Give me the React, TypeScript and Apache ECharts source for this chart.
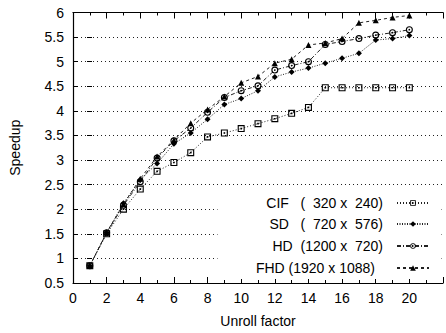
import React, { useEffect, useRef } from 'react';
import * as echarts from 'echarts';

const unrollFactor = [1, 2, 3, 4, 5, 6, 7, 8, 9, 10, 11, 12, 13, 14, 15, 16, 17, 18, 19, 20];
const cifSpeedup = [0.85, 1.5, 2.0, 2.41, 2.77, 2.95, 3.15, 3.47, 3.55, 3.64, 3.74, 3.84, 3.95, 4.07, 4.47, 4.47, 4.47, 4.47, 4.47, 4.47];
const sdSpeedup = [0.85, 1.52, 2.12, 2.6, 2.93, 3.33, 3.55, 3.83, 4.13, 4.25, 4.41, 4.69, 4.79, 4.87, 4.97, 5.07, 5.17, 5.44, 5.47, 5.53];
const hdSpeedup = [0.85, 1.52, 2.08, 2.56, 3.04, 3.39, 3.65, 3.97, 4.27, 4.41, 4.51, 4.83, 4.92, 5.0, 5.35, 5.41, 5.47, 5.54, 5.59, 5.65];
const fhdSpeedup = [0.85, 1.53, 2.1, 2.62, 3.07, 3.41, 3.75, 4.03, 4.29, 4.57, 4.7, 4.97, 5.05, 5.34, 5.38, 5.47, 5.79, 5.84, 5.9, 5.94];
const seriesNames = ['CIF   (  320 x  240)', 'SD   (  720 x  576)', 'HD  (1200 x  720)', 'FHD (1920 x 1088)'];

const FONT = "'Liberation Sans', Arial, sans-serif";
const INK = '#000';

const SQUARE_DOT = 'path://M0,0H10V10H0Z M1.6,1.6V8.4H8.4V1.6Z M3.8,3.8H6.2V6.2H3.8Z';
const CIRCLE_DOT =
  'path://M5,0A5,5 0 1,1 5,10A5,5 0 1,1 5,0Z M5,1.6A3.4,3.4 0 1,0 5,8.4A3.4,3.4 0 1,0 5,1.6Z M5,3.8A1.2,1.2 0 1,1 5,6.2A1.2,1.2 0 1,1 5,3.8Z';

export default function App() {
  const ref = useRef<HTMLDivElement>(null);

  useEffect(() => {
    const chart = echarts.init(ref.current as HTMLDivElement, null, { renderer: 'svg' });

    const valuesList = [cifSpeedup, sdSpeedup, hdSpeedup, fhdSpeedup];
    const symbols = [SQUARE_DOT, 'diamond', CIRCLE_DOT, 'triangle'];
    const symbolSizes = [7, 6, 7, 6];
    const dashes: any[] = [[1, 2], [1, 1.5], [4, 2, 1, 2], [3, 3]];
    const legendTops = [196, 217, 239, 261];
    const textPads = [9, 9, 9, 17];

    const xCommon = { type: 'value', min: 0, max: 22, interval: 2 };
    const tickStyle = { color: INK, width: 1 };

    const option: any = {
      animation: false,
      backgroundColor: '#fff',
      textStyle: { fontFamily: FONT },
      grid: { left: 73, right: -19.7, top: 12.5, bottom: 47.3, containLabel: false },
      graphic: [
        {
          type: 'rect',
          z: 3,
          shape: { x: 217.5, y: 190, width: 224, height: 89 },
          style: { fill: '#fff' },
          silent: true,
        },
      ],
      xAxis: [
        {
          ...xCommon,
          position: 'bottom',
          axisLine: { onZero: false, lineStyle: { color: INK, width: 1.2 } },
          axisTick: { inside: true, length: 6, lineStyle: tickStyle },
          minorTick: { show: true, splitNumber: 2, length: 3, lineStyle: tickStyle },
          axisLabel: {
            color: INK,
            fontSize: 14,
            fontFamily: FONT,
            margin: 8,
            formatter: (v: number) => (v > 20 ? '' : String(v)),
          },
          splitLine: { show: false },
          name: 'Unroll factor',
          nameLocation: 'middle',
          nameGap: 31,
          nameTextStyle: { color: INK, fontSize: 14, fontFamily: FONT },
        },
        {
          ...xCommon,
          position: 'top',
          axisLine: { onZero: false, lineStyle: { color: INK, width: 1.2 } },
          axisTick: { inside: true, length: 6, lineStyle: tickStyle },
          minorTick: { show: true, splitNumber: 2, length: 3, lineStyle: tickStyle },
          axisLabel: { show: false },
          splitLine: { show: false },
        },
      ],
      yAxis: [
        {
          type: 'value',
          min: 0.5,
          max: 6,
          interval: 0.5,
          position: 'left',
          axisLine: { show: true, onZero: false, lineStyle: { color: INK, width: 1.2 } },
          axisTick: { show: true, inside: true, length: 5, lineStyle: tickStyle },
          axisLabel: { color: INK, fontSize: 14, fontFamily: FONT, margin: 9 },
          splitLine: { show: true, lineStyle: { color: '#222', width: 1, type: [1, 3] } },
          name: 'Speedup',
          nameLocation: 'middle',
          nameGap: 51,
          nameRotate: 90,
          nameTextStyle: { color: INK, fontSize: 14, fontFamily: FONT },
        },
        {
          type: 'value',
          min: 0.5,
          max: 6,
          interval: 0.5,
          position: 'right',
          offset: -19,
          axisLine: { show: false },
          axisTick: { show: true, inside: true, length: 5, lineStyle: tickStyle },
          axisLabel: { show: false },
          splitLine: { show: false },
        },
      ],
      legend: seriesNames.map((n, i) => ({
        data: [n],
        orient: 'vertical',
        right: 16,
        top: legendTops[i],
        padding: 0,
        itemWidth: 32,
        itemHeight: 7,
        align: 'right',
        selectedMode: false,
        z: 5,
        textStyle: { color: INK, fontSize: 14, fontFamily: FONT, padding: [0, textPads[i], 0, 0] },
      })),
      series: seriesNames.map((n, i) => ({
        name: n,
        type: 'line',
        xAxisIndex: 0,
        yAxisIndex: 0,
        data: unrollFactor.map((x, j) => [x, valuesList[i][j]]),
        symbol: symbols[i],
        symbolSize: symbolSizes[i],
        showAllSymbol: true,
        itemStyle: { color: INK },
        lineStyle: { color: '#222', width: 1, type: dashes[i] },
        z: 2 + i,
      })),
    };

    chart.setOption(option);
    return () => chart.dispose();
  }, []);

  return <div ref={ref} style={{ position: 'fixed', left: 0, top: 0, width: 446, height: 333 }} />;
}
